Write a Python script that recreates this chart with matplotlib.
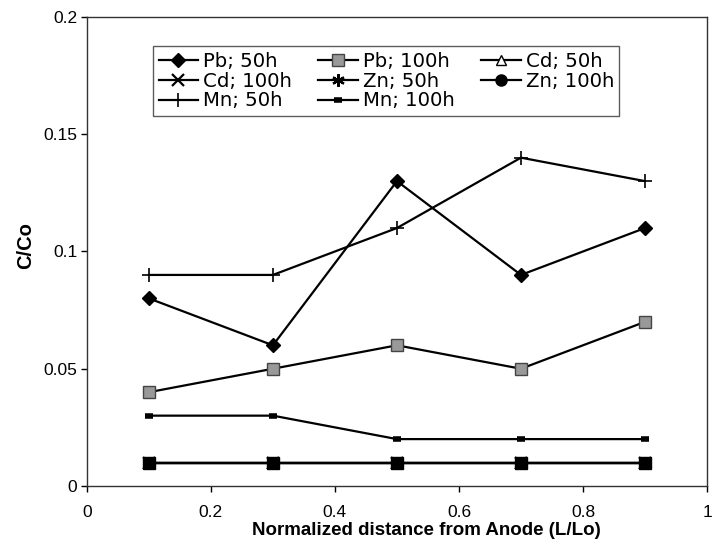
import matplotlib
matplotlib.use('Agg')
import matplotlib.pyplot as plt
from matplotlib.lines import Line2D

plt.rcParams['font.family'] = ['Liberation Sans', 'DejaVu Sans']

# Data
x = [0.1, 0.3, 0.5, 0.7, 0.9]
pb_50 = [0.08, 0.06, 0.13, 0.09, 0.11]
pb_100 = [0.04, 0.05, 0.06, 0.05, 0.07]
cd_50 = [0.01, 0.01, 0.01, 0.01, 0.01]
cd_100 = [0.01, 0.01, 0.01, 0.01, 0.01]
zn_50 = [0.01, 0.01, 0.01, 0.01, 0.01]
zn_100 = [0.01, 0.01, 0.01, 0.01, 0.01]
mn_50 = [0.09, 0.09, 0.11, 0.14, 0.13]
mn_100 = [0.03, 0.03, 0.02, 0.02, 0.02]

fig = plt.figure(figsize=(7.12, 5.47), dpi=100)
ax = fig.add_axes([0.122, 0.1115, 0.871, 0.8575])

lw = 1.6
ax.plot(x, pb_50, color='k', lw=lw, marker='D', ms=7, mfc='k', mec='k', label='Pb; 50h')
ax.plot(x, pb_100, color='k', lw=lw, marker='s', ms=9, mfc='#999999', mec='#444444', label='Pb; 100h')
ax.plot(x, cd_50, color='k', lw=lw, marker='^', ms=7, mfc='white', mec='k', label='Cd; 50h')
ax.plot(x, cd_100, color='k', lw=lw, marker='x', ms=8, mew=1.6, label='Cd; 100h')
ax.plot(x, zn_50, color='k', lw=lw, marker=(6, 2, 0), ms=9, mew=1.6, label='Zn; 50h')
ax.plot(x, zn_100, color='k', lw=lw, marker='s', ms=8, mfc='k', mec='k', label='Zn; 100h')
ax.plot(x, mn_50, color='k', lw=lw, marker='+', ms=10, mew=1.2, label='Mn; 50h')
ax.plot(x, mn_100, color='k', lw=lw, marker='_', ms=6, mew=4, label='Mn; 100h')

ax.set_xlim(0, 1)
ax.set_ylim(0, 0.2)
ax.set_xticks([0, 0.2, 0.4, 0.6, 0.8, 1])
ax.set_xticklabels(['0', '0.2', '0.4', '0.6', '0.8', '1'])
ax.set_yticks([0, 0.05, 0.1, 0.15, 0.2])
ax.set_yticklabels(['0', '0.05', '0.1', '0.15', '0.2'])
ax.tick_params(direction='out', length=4, width=1, labelsize=12.5)
ax.tick_params(axis='x', pad=10)
ax.tick_params(axis='y', pad=3)
for s in ax.spines.values():
    s.set_linewidth(1)
    s.set_color('#333333')

ax.set_xlabel('Normalized distance from Anode (L/Lo)', fontsize=13.5, fontweight='bold',
              labelpad=1, x=0.548)
ax.set_ylabel('C/Co', fontsize=14.5, fontweight='bold', labelpad=6, y=0.512)

handles, labels = ax.get_legend_handles_labels()
# legend key for Zn 100h is a round dot
handles[5] = Line2D([], [], color='k', lw=lw, marker='o', ms=8, mfc='k')
order = [0, 3, 6, 1, 4, 7, 2, 5]  # fill legend row by row
leg = ax.legend([handles[i] for i in order], [labels[i] for i in order], ncol=3,
                loc='upper left', bbox_to_anchor=(153 / 712, 1 - 46 / 547),
                bbox_transform=fig.transFigure, borderaxespad=0,
                prop={'family': 'DejaVu Sans', 'size': 14.2},
                frameon=True, fancybox=False, edgecolor='#333333',
                handlelength=2.0, handletextpad=0.25, columnspacing=1.35,
                labelspacing=0.05, borderpad=0.28)
leg.get_frame().set_linewidth(1)

fig.savefig('out.png', dpi=100)
